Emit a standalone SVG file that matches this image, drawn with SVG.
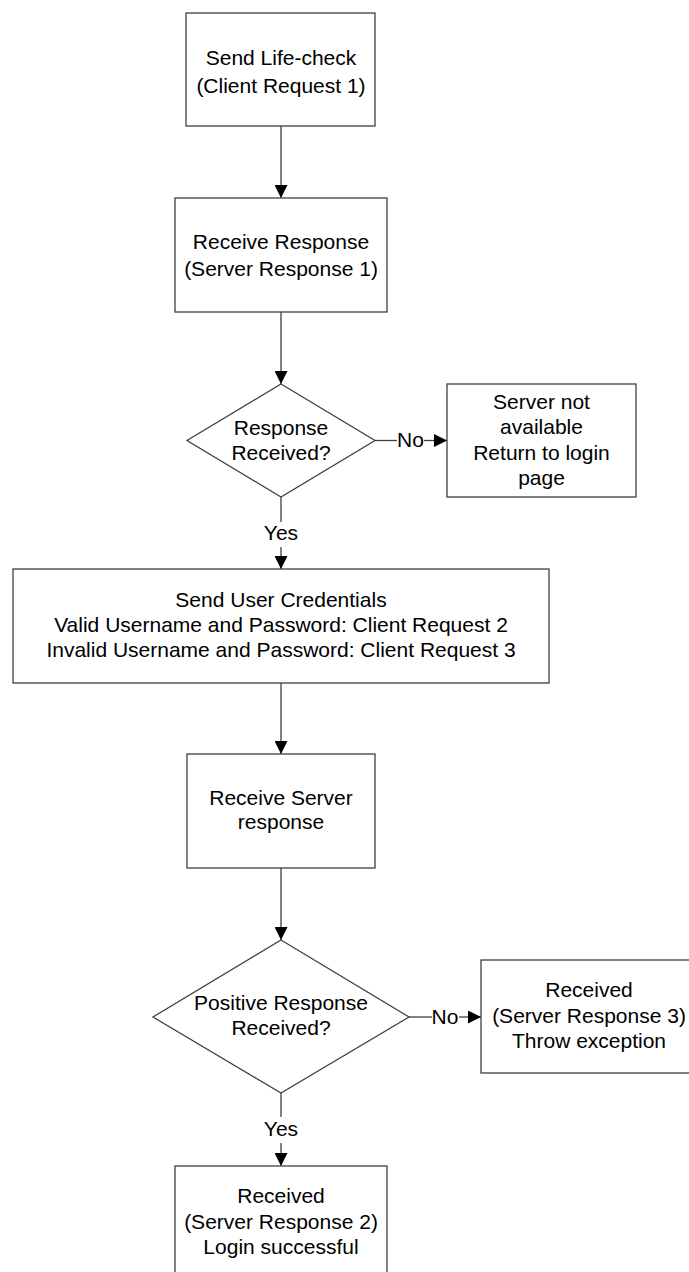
<svg xmlns="http://www.w3.org/2000/svg" width="689" height="1272" viewBox="0 0 689 1272">
  <style>
    .shape { fill: #ffffff; stroke: #404040; stroke-width: 1.3; }
    .link { fill: none; stroke: #404040; stroke-width: 1.3; }
    text { font-family: "Liberation Sans", Arial, sans-serif; font-size: 21px; fill: #000000; text-anchor: middle; }
  </style>
  <defs>
    <marker id="arrow" viewBox="0 0 13 13" refX="13" refY="6.5" markerWidth="13" markerHeight="13" markerUnits="userSpaceOnUse" orient="auto">
      <path d="M0,0 L13,6.5 L0,13 z" fill="#000000"/>
    </marker>
  </defs>

  <rect width="689" height="1272" fill="#ffffff"/>

  <g id="connectors">
    <path class="link" d="M281,126 V198" marker-end="url(#arrow)"/>
    <path class="link" d="M281,312 V384" marker-end="url(#arrow)"/>
    <path class="link" d="M375,440.5 H397"/>
    <path class="link" d="M424,440.5 H447" marker-end="url(#arrow)"/>
    <text x="410.5" y="447">No</text>
    <path class="link" d="M281,497 V522"/>
    <path class="link" d="M281,547 V569" marker-end="url(#arrow)"/>
    <text x="281" y="540">Yes</text>
    <path class="link" d="M281,683 V754" marker-end="url(#arrow)"/>
    <path class="link" d="M281,868 V940" marker-end="url(#arrow)"/>
    <path class="link" d="M409,1017 H432"/>
    <path class="link" d="M459,1017 H481" marker-end="url(#arrow)"/>
    <text x="445" y="1023.5">No</text>
    <path class="link" d="M281,1093 V1117"/>
    <path class="link" d="M281,1143 V1166" marker-end="url(#arrow)"/>
    <text x="281" y="1136">Yes</text>
  </g>

  <g id="send-life-check">
    <rect class="shape" x="186" y="13" width="189" height="113"/>
    <text x="281" y="64.5">Send Life-check</text>
    <text x="281" y="92.5">(Client Request 1)</text>
  </g>

  <g id="receive-response">
    <rect class="shape" x="175" y="198" width="212" height="114"/>
    <text x="281" y="249">Receive Response</text>
    <text x="281" y="276">(Server Response 1)</text>
  </g>

  <g id="response-received">
    <polygon class="shape" points="281,384 375,440.5 281,497 187,440.5"/>
    <text x="281" y="435">Response</text>
    <text x="281" y="460">Received?</text>
  </g>

  <g id="server-not-available">
    <rect class="shape" x="447" y="384" width="189" height="113"/>
    <text x="541.5" y="409">Server not</text>
    <text x="541.5" y="434">available</text>
    <text x="541.5" y="460">Return to login</text>
    <text x="541.5" y="485">page</text>
  </g>

  <g id="send-user-credentials">
    <rect class="shape" x="13" y="569" width="536" height="114"/>
    <text x="281" y="607">Send User Credentials</text>
    <text x="281" y="632">Valid Username and Password: Client Request 2</text>
    <text x="281" y="657">Invalid Username and Password: Client Request 3</text>
  </g>

  <g id="receive-server-response">
    <rect class="shape" x="187" y="754" width="188" height="114"/>
    <text x="281" y="805">Receive Server</text>
    <text x="281" y="829">response</text>
  </g>

  <g id="positive-response-received">
    <polygon class="shape" points="281,940 409,1017 281,1093 153,1017"/>
    <text x="281" y="1010">Positive Response</text>
    <text x="281" y="1035">Received?</text>
  </g>

  <g id="server-response-3">
    <rect class="shape" x="481" y="960" width="216" height="113"/>
    <text x="589" y="997">Received</text>
    <text x="589" y="1022.5">(Server Response 3)</text>
    <text x="589" y="1047.5">Throw exception</text>
  </g>

  <g id="server-response-2">
    <rect class="shape" x="175" y="1166" width="212" height="114"/>
    <text x="281" y="1203">Received</text>
    <text x="281" y="1228.5">(Server Response 2)</text>
    <text x="281" y="1254">Login successful</text>
  </g>
</svg>
